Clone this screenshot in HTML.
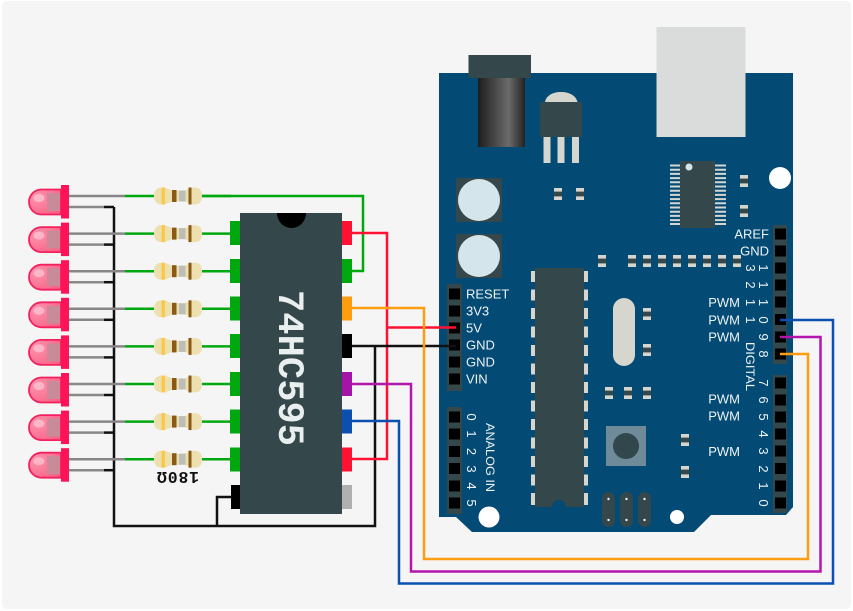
<!DOCTYPE html>
<html><head><meta charset="utf-8"><style>
html,body{margin:0;padding:0;background:#fff}
svg{display:block;filter:blur(.35px)}
text{font-family:"Liberation Sans",sans-serif;fill:#eef3f4}
</style></head><body>
<svg width="853" height="611" viewBox="0 0 853 611" xmlns="http://www.w3.org/2000/svg">
<defs>
<linearGradient id="jack" x1="0" x2="1" y1="0" y2="0"><stop offset="0" stop-color="#1e1c1c"/><stop offset=".65" stop-color="#6b6b6b"/><stop offset="1" stop-color="#232222"/></linearGradient>
<radialGradient id="ledg" cx=".25" cy=".3" r=".9"><stop offset="0" stop-color="#fb94ac"/><stop offset="1" stop-color="#fb5f86"/></radialGradient>
<g id="cap"><rect width="8" height="12" fill="#34474a"/><rect width="8" height="3.6" fill="#d6d6cf"/><rect y="8.4" width="8" height="3.6" fill="#d6d6cf"/></g>
<rect id="sq" width="11" height="11" fill="#000"/>
<g id="row">
 <path d="M61 189.500H41.500A12.500 12.500 0 0 0 41.500 214.500H61Z" fill="url(#ledg)" stroke="#f5205f" stroke-width="1.800"/>
 <rect x="47" y="193" width="13" height="18" fill="#c98a9a"/>
 <ellipse cx="39" cy="198" rx="5.500" ry="4" fill="#fcc0cf" opacity=".8"/>
 <rect x="61" y="185" width="8" height="33.500" fill="#fe1358"/>
 <path d="M69 196H125" stroke="#868686" stroke-width="2.500"/>
 <path d="M69 207H104" stroke="#888" stroke-width="2.500"/>
 <path d="M104 207H114" stroke="#111" stroke-width="2.500"/>
 <path d="M125 196H154M202 196H231" stroke="#00a80f" stroke-width="2.500" fill="none"/>
 <path d="M162 187.500C156 187.500 154 191 154 196C154 201 156 204.500 162 204.500C168 204.500 170 201.500 173 201.500H184C187 201.500 189 204.500 195 204.500C200 204.500 202 201 202 196C202 191 200 187.500 195 187.500C189 187.500 187 190.500 184 190.500H173C170 190.500 168 187.500 162 187.500Z" fill="#ecdfb0"/>
 <rect x="161.500" y="187.500" width="3.500" height="17" fill="#fdc84a"/>
 <rect x="172" y="190" width="4.500" height="12" fill="#8a5a14"/>
 <rect x="179" y="190.500" width="6.500" height="11" fill="#bdbdb8"/>
 <rect x="188.500" y="187.500" width="3" height="17" fill="#8a5a14"/>
</g>
</defs>
<rect width="853" height="611" fill="#fff"/>
<rect x="2" y="1" width="849" height="608" rx="5" fill="#f5f5f6"/>

<!-- Board -->
<path d="M439 73H793V507L786 515H711L694 532H472L456 517H439Z" fill="#034a74"/>
<rect x="656.500" y="27" width="89" height="110" fill="#d9dcda"/>
<rect x="468.500" y="55" width="62.500" height="23" fill="#34474a"/>
<rect x="478" y="78" width="47" height="69" fill="url(#jack)"/>
<path d="M545 102C546 96 552 92 561 92C570 92 576 96 577.500 102Z" fill="#d6d6cf"/>
<rect x="540" y="102" width="42" height="35" fill="#34474a"/>
<g fill="#d6d6cf"><rect x="543.500" y="137" width="7" height="26"/><rect x="557.500" y="137" width="7" height="26"/><rect x="572" y="137" width="7" height="26"/></g>
<rect x="456" y="178" width="46" height="44" fill="#34474a"/><circle cx="479" cy="200" r="21" fill="#d5e5ec"/>
<rect x="456" y="234" width="46" height="44" fill="#34474a"/><circle cx="479" cy="256" r="21" fill="#d5e5ec"/>

<!-- small IC -->
<g stroke="#d6d6cf" stroke-width="2" fill="none">
<path d="M670 165.500H680M670 169.700H680M670 173.900H680M670 178.100H680M670 182.300H680M670 186.500H680M670 190.700H680M670 194.900H680M670 199.100H680M670 203.300H680M670 207.500H680M670 211.700H680M670 215.900H680M670 220.100H680M670 224H680"/>
<path d="M715 165.500H726M715 169.700H726M715 173.900H726M715 178.100H726M715 182.300H726M715 186.500H726M715 190.700H726M715 194.900H726M715 199.100H726M715 203.300H726M715 207.500H726M715 211.700H726M715 215.900H726M715 220.100H726M715 224H726"/>
</g>
<rect x="680" y="161" width="35" height="67" fill="#34474a"/>
<circle cx="689" cy="167" r="3.500" fill="#d5e5ec"/>
<circle cx="780" cy="178" r="11" fill="#fff"/>
<circle cx="489" cy="517" r="10.500" fill="#fff"/>
<circle cx="677" cy="517" r="7" fill="#fff"/>

<!-- caps -->
<use href="#cap" x="554" y="188"/><use href="#cap" x="576" y="188"/>
<use href="#cap" x="598" y="255"/><use href="#cap" x="628" y="255"/><use href="#cap" x="643" y="255"/><use href="#cap" x="658" y="255"/><use href="#cap" x="673" y="255"/><use href="#cap" x="688" y="255"/><use href="#cap" x="703" y="255"/><use href="#cap" x="718" y="255"/><use href="#cap" x="733" y="255"/>
<use href="#cap" x="740" y="175"/><use href="#cap" x="740" y="205"/>
<use href="#cap" x="643" y="308"/><use href="#cap" x="643" y="344"/><use href="#cap" x="643" y="387"/>
<use href="#cap" x="605" y="387"/><use href="#cap" x="624" y="387"/>
<use href="#cap" x="681" y="434"/><use href="#cap" x="681" y="466"/>

<!-- main chip -->
<g fill="#d6d6cf">
<rect x="531" y="271" width="4" height="11"/><rect x="531" y="289.500" width="4" height="11"/><rect x="531" y="308" width="4" height="11"/><rect x="531" y="326.500" width="4" height="11"/><rect x="531" y="345" width="4" height="11"/><rect x="531" y="363.500" width="4" height="11"/><rect x="531" y="382" width="4" height="11"/><rect x="531" y="400.500" width="4" height="11"/><rect x="531" y="419" width="4" height="11"/><rect x="531" y="437.500" width="4" height="11"/><rect x="531" y="456" width="4" height="11"/><rect x="531" y="474.500" width="4" height="11"/><rect x="531" y="493" width="4" height="12"/>
<rect x="584" y="271" width="4" height="11"/><rect x="584" y="289.500" width="4" height="11"/><rect x="584" y="308" width="4" height="11"/><rect x="584" y="326.500" width="4" height="11"/><rect x="584" y="345" width="4" height="11"/><rect x="584" y="363.500" width="4" height="11"/><rect x="584" y="382" width="4" height="11"/><rect x="584" y="400.500" width="4" height="11"/><rect x="584" y="419" width="4" height="11"/><rect x="584" y="437.500" width="4" height="11"/><rect x="584" y="456" width="4" height="11"/><rect x="584" y="474.500" width="4" height="11"/><rect x="584" y="493" width="4" height="12"/>
</g>
<rect x="535" y="268" width="49" height="239" fill="#34474a"/>
<circle cx="559" cy="507" r="7" fill="#034a74"/>
<rect x="613" y="298" width="22" height="68" rx="11" fill="#d6d6cf"/>
<rect x="606" y="426" width="40" height="40" fill="#6f8a99"/><circle cx="626" cy="446" r="13" fill="#32474c"/>
<g fill="#34474a"><rect x="602" y="492" width="13" height="35" rx="6.500"/><rect x="620" y="492" width="13" height="35" rx="6.500"/><rect x="638" y="492" width="13" height="35" rx="6.500"/></g>
<g fill="#e8eef0"><circle cx="608.500" cy="499" r="1.200"/><circle cx="608.500" cy="520" r="1.200"/><circle cx="626.500" cy="499" r="1.200"/><circle cx="626.500" cy="520" r="1.200"/><circle cx="644.500" cy="499" r="1.200"/><circle cx="644.500" cy="520" r="1.200"/></g>

<!-- headers -->
<g fill="#34474a"><rect x="447" y="284" width="15" height="107"/><rect x="447" y="407" width="15" height="107"/><rect x="773" y="225" width="14" height="139"/><rect x="773" y="375" width="14" height="138"/></g>
<use href="#sq" x="449" y="288.500"/><use href="#sq" x="449" y="305.500"/><use href="#sq" x="449" y="322.500"/><use href="#sq" x="449" y="339.500"/><use href="#sq" x="449" y="356.500"/><use href="#sq" x="449" y="373.500"/>
<use href="#sq" x="449" y="411.500"/><use href="#sq" x="449" y="428.500"/><use href="#sq" x="449" y="446"/><use href="#sq" x="449" y="463"/><use href="#sq" x="449" y="480.500"/><use href="#sq" x="449" y="497.500"/>
<use href="#sq" x="775" y="228.500"/><use href="#sq" x="775" y="245.500"/><use href="#sq" x="775" y="262.500"/><use href="#sq" x="775" y="279.500"/><use href="#sq" x="775" y="296.500"/><use href="#sq" x="775" y="314"/><use href="#sq" x="775" y="331.500"/><use href="#sq" x="775" y="348.500"/>
<use href="#sq" x="775" y="377.500"/><use href="#sq" x="775" y="394.500"/><use href="#sq" x="775" y="411.500"/><use href="#sq" x="775" y="428.500"/><use href="#sq" x="775" y="445.500"/><use href="#sq" x="775" y="463"/><use href="#sq" x="775" y="480.500"/><use href="#sq" x="775" y="497.500"/>

<!-- labels -->
<g font-size="13">
<text x="466" y="298.500">RESET</text><text x="466" y="315.500">3V3</text><text x="466" y="332.500">5V</text><text x="466" y="349.500">GND</text><text x="466" y="366.500">GND</text><text x="466" y="383.500">VIN</text>
<g text-anchor="end"><text x="769" y="238.500">AREF</text><text x="769" y="255.500">GND</text>
<text x="740" y="307">PWM</text><text x="740" y="324.500">PWM</text><text x="740" y="341.500">PWM</text><text x="740" y="403.500">PWM</text><text x="740" y="420.500">PWM</text><text x="740" y="456">PWM</text></g>
</g>
<g font-size="13" text-anchor="middle">
<text transform="translate(746,268) rotate(90)">3</text><text transform="translate(759,268) rotate(90)">1</text>
<text transform="translate(746,285) rotate(90)">2</text><text transform="translate(759,285) rotate(90)">1</text>
<text transform="translate(746,302.500) rotate(90)">1</text><text transform="translate(759,302.500) rotate(90)">1</text>
<text transform="translate(746,320) rotate(90)">1</text><text transform="translate(759,320) rotate(90)">0</text>
<text transform="translate(759,337) rotate(90)">9</text><text transform="translate(759,354) rotate(90)">8</text>
<text transform="translate(759,383) rotate(90)">7</text><text transform="translate(759,400) rotate(90)">6</text><text transform="translate(759,417) rotate(90)">5</text><text transform="translate(759,434) rotate(90)">4</text><text transform="translate(759,451) rotate(90)">3</text><text transform="translate(759,469) rotate(90)">2</text><text transform="translate(759,486) rotate(90)">1</text><text transform="translate(759,503) rotate(90)">0</text>
<text transform="translate(467,417) rotate(90)">0</text><text transform="translate(467,434) rotate(90)">1</text><text transform="translate(467,451.500) rotate(90)">2</text><text transform="translate(467,469) rotate(90)">3</text><text transform="translate(467,486) rotate(90)">4</text><text transform="translate(467,503) rotate(90)">5</text>
</g>
<text transform="translate(746,342) rotate(90)" font-size="12" textLength="49" lengthAdjust="spacingAndGlyphs">DIGITAL</text>
<text transform="translate(486,423) rotate(90)" font-size="12" textLength="69" lengthAdjust="spacingAndGlyphs">ANALOG IN</text>

<!-- left circuit -->
<path d="M114 207V526H375V346M217 526V497H231" stroke="#111" stroke-width="2.500" fill="none"/>
<use href="#row"/>
<use href="#row" y="37.600"/><use href="#row" y="75.200"/><use href="#row" y="112.800"/><use href="#row" y="150.400"/><use href="#row" y="188"/><use href="#row" y="225.600"/><use href="#row" y="263.200"/>
<path d="M202 196H363V271H350" stroke="#00a80f" stroke-width="2.500" fill="none"/>
<text transform="translate(199,472) rotate(180)" font-size="16.500" style="font-family:'Liberation Mono',monospace;fill:#111;font-weight:bold" textLength="42">180Ω</text>

<!-- 74HC595 -->
<g fill="#00a80f"><rect x="230" y="221" width="10" height="24"/><rect x="230" y="259" width="10" height="24"/><rect x="230" y="296.500" width="10" height="24"/><rect x="230" y="334" width="10" height="24"/><rect x="230" y="372" width="10" height="24"/><rect x="230" y="409.500" width="10" height="24"/><rect x="230" y="447.500" width="10" height="24"/></g>
<rect x="231" y="485" width="10" height="24" fill="#000"/>
<rect x="342" y="221" width="10" height="24" fill="#fe1133"/>
<rect x="342" y="259" width="10" height="24" fill="#00a80f"/>
<rect x="342" y="296.500" width="10" height="24" fill="#ff9c10"/>
<rect x="342" y="334" width="10" height="24" fill="#000"/>
<rect x="342" y="372" width="10" height="24" fill="#a513a8"/>
<rect x="342" y="409.500" width="10" height="24" fill="#0b4fb0"/>
<rect x="342" y="447.500" width="10" height="24" fill="#fe1133"/>
<rect x="342" y="485" width="10" height="24" fill="#b0b0b0"/>
<rect x="240" y="213" width="102" height="301" fill="#34474a"/>
<path d="M277 213A14.500 15 0 0 0 306 213Z" fill="#000"/>
<text transform="translate(279,290) rotate(90)" font-size="37" style="font-family:'Liberation Mono',monospace;fill:#e9eeee;font-weight:bold" textLength="156">74HC595</text>

<!-- wires -->
<g fill="none" stroke-width="2.500">
<path d="M352 233H387V459H352" stroke="#fe1133"/>
<path d="M388 327.500H456" stroke="#fe1133"/>
<path d="M352 346H456" stroke="#111"/>
<path d="M352 308H424V559H808V354H780" stroke="#ff9c10"/>
<path d="M352 384H411V571.500H820.500V337H780" stroke="#b416ac"/>
<path d="M352 421H399V583.500H833V320H780" stroke="#0b4fb0"/>
</g>
</svg>
</body></html>
